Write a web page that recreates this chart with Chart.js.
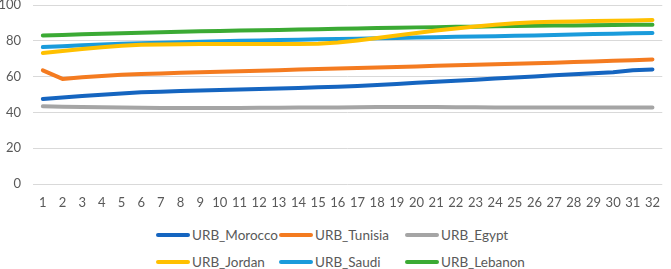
<!DOCTYPE html>
<html>
<head>
<meta charset="utf-8">
<script src="https://cdn.jsdelivr.net/npm/chart.js@4/dist/chart.umd.min.js"></script>
<style>
  body { margin: 0; background: #fff; }
  #wrap { position: relative; width: 671px; height: 269px; overflow: hidden; }
  #chart { position: absolute; left: 0; top: 0; }
  #legend { position: absolute; left: 156px; top: 0; font-family: Lato, sans-serif; font-size: 13.5px; color: #595959; }
  .item { position: absolute; display: flex; align-items: center; white-space: nowrap; }
  .swatch { width: 34px; height: 4px; border-radius: 2px; margin-right: 2px; }
</style>
</head>
<body>
<div id="wrap">
  <canvas id="chart" width="671" height="212"></canvas>
  <div id="legend"></div>
</div>
<script>
const labels = Array.from({ length: 32 }, (_, i) => String(i + 1))

const seriesNames = ['URB_Morocco', 'URB_Tunisia', 'URB_Egypt', 'URB_Jordan', 'URB_Saudi', 'URB_Lebanon']
const seriesColors = ['#1565C0', '#F47B20', '#A5A5A5', '#FFC000', '#1A9BDB', '#3BAA34']

const morocco = [47.5, 48.3, 49.1, 49.9, 50.6, 51.2, 51.6, 51.9, 52.2, 52.5, 52.8, 53.1, 53.4, 53.7, 54.0, 54.3,
  54.8, 55.3, 55.9, 56.5, 57.1, 57.7, 58.3, 58.9, 59.5, 60.1, 60.7, 61.3, 61.9, 62.4, 63.6, 64.0]
const tunisia = [63.5, 58.7, 59.6, 60.4, 61.0, 61.4, 61.8, 62.1, 62.4, 62.7, 63.0, 63.3, 63.6, 63.9, 64.2, 64.5,
  64.8, 65.1, 65.4, 65.7, 66.0, 66.3, 66.6, 66.9, 67.2, 67.5, 67.8, 68.1, 68.4, 68.8, 69.2, 69.6]
const egypt = [43.4, 43.2, 43.0, 42.9, 42.7, 42.6, 42.5, 42.5, 42.5, 42.5, 42.5, 42.6, 42.6, 42.7, 42.8, 42.8,
  42.9, 43.0, 43.0, 43.0, 43.0, 42.9, 42.9, 42.8, 42.8, 42.7, 42.7, 42.7, 42.7, 42.7, 42.8, 42.8]
const jordan = [73.2, 74.3, 75.4, 76.4, 77.3, 77.8, 78.0, 78.1, 78.2, 78.2, 78.2, 78.2, 78.2, 78.2, 78.3, 79.0,
  80.2, 81.6, 83.0, 84.4, 85.7, 86.9, 88.0, 89.0, 89.8, 90.3, 90.6, 90.8, 91.0, 91.2, 91.4, 91.6]
const saudi = [76.5, 77.0, 77.5, 77.9, 78.3, 78.6, 78.9, 79.2, 79.5, 79.8, 80.0, 80.2, 80.4, 80.6, 80.8, 81.0,
  81.2, 81.4, 81.6, 81.8, 82.0, 82.2, 82.4, 82.6, 82.8, 83.0, 83.3, 83.5, 83.8, 84.0, 84.2, 84.4]
const lebanon = [83.0, 83.3, 83.6, 83.9, 84.2, 84.5, 84.8, 85.0, 85.3, 85.5, 85.7, 85.9, 86.1, 86.3, 86.5, 86.7,
  86.9, 87.1, 87.3, 87.5, 87.6, 87.8, 87.9, 88.1, 88.2, 88.4, 88.5, 88.6, 88.7, 88.8, 88.9, 89.0]

const seriesValues = [morocco, tunisia, egypt, jordan, saudi, lebanon]

const tickFont = { family: 'Lato, sans-serif', size: 13 }

const chart = new Chart(document.getElementById('chart'), {
  type: 'line',
  data: {
    labels: labels,
    datasets: seriesNames.map((name, i) => ({
      label: name,
      data: seriesValues[i],
      borderColor: seriesColors[i],
      backgroundColor: seriesColors[i],
      borderWidth: 4,
      borderCapStyle: 'round',
      borderJoinStyle: 'round',
      pointRadius: 0,
      tension: 0,
    })),
  },
  options: {
    responsive: false,
    animation: false,
    layout: { padding: 0 },
    plugins: {
      legend: { display: false },
      tooltip: { enabled: false },
    },
    scales: {
      x: {
        offset: true,
        grid: { display: false, drawTicks: false },
        border: { display: false },
        ticks: { color: '#595959', font: tickFont, maxRotation: 0, autoSkip: false, padding: 11 },
        afterFit: (s) => {
          s.height = 28
        },
      },
      y: {
        min: 0,
        max: 100,
        grid: { color: '#D9D9D9', lineWidth: 1, drawTicks: false },
        border: { display: false },
        ticks: { stepSize: 20, color: '#595959', font: tickFont, padding: 12 },
        afterFit: (s) => {
          s.width = 33
          s.paddingTop = 5
          s.paddingBottom = 0
        },
      },
    },
  },
})

// legend laid out in 3 columns like the original
const legendEl = document.getElementById('legend')
const colX = [0, 123, 249]
const rowY = [235, 262]
chart.data.datasets.forEach((ds, i) => {
  const item = document.createElement('div')
  item.className = 'item'
  item.style.left = colX[i % 3] + 'px'
  item.style.top = (rowY[Math.floor(i / 3)] - 9) + 'px'
  item.style.height = '18px'
  const sw = document.createElement('span')
  sw.className = 'swatch'
  sw.style.background = ds.borderColor
  const txt = document.createElement('span')
  txt.textContent = ds.label
  item.appendChild(sw)
  item.appendChild(txt)
  legendEl.appendChild(item)
})
</script>
</body>
</html>
